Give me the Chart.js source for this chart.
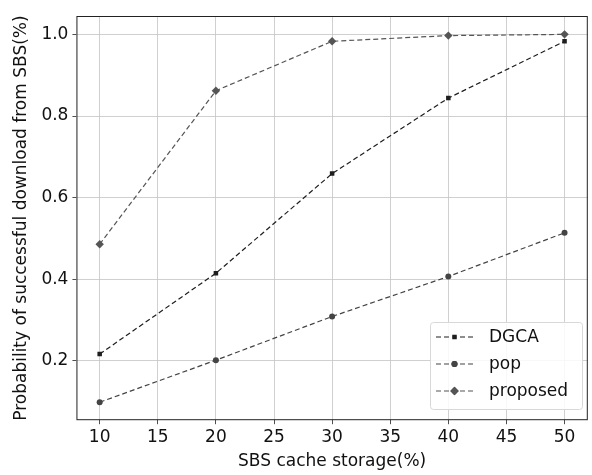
<!DOCTYPE html>
<html>
<head>
<meta charset="utf-8">
<script src="https://cdn.jsdelivr.net/npm/chart.js@4"></script>
<style>
  body { margin: 0; background: #fff; }
  #wrap { width: 592px; height: 475px; }
</style>
</head>
<body>
<div id="wrap"><canvas id="cacheChart" width="592" height="475"></canvas></div>
<script>
const storage = [10, 20, 30, 40, 50];
const dgca = [0.217, 0.415, 0.659, 0.844, 0.983];
const pop = [0.099, 0.202, 0.309, 0.407, 0.514];
const proposed = [0.486, 0.862, 0.983, 0.997, 1.0];
const xTicks = [10, 15, 20, 25, 30, 35, 40, 45, 50];
const yTicks = [0.2, 0.4, 0.6, 0.8, 1.0];

const FONT = 'DejaVu Sans';

function series(label, values, color, marker, radius) {
  return {
    label: label,
    data: storage.map((x, i) => ({ x: x, y: values[i] })),
    borderColor: color,
    backgroundColor: color,
    borderWidth: 1.2,
    borderDash: [5, 3],
    pointStyle: marker,
    pointRadius: radius,
    pointHoverRadius: radius,
    pointBorderWidth: 0,
    tension: 0
  };
}

// matplotlib-like frame + legend inside the axes
const framePlugin = {
  id: 'frame',
  afterDraw(chart) {
    const { ctx, chartArea: a } = chart;
    ctx.save();
    ctx.strokeStyle = '#222';
    ctx.lineWidth = 1;
    ctx.strokeRect(a.left + 0.5, a.top + 0.5, a.right - a.left - 1, a.bottom - a.top - 1);

    // legend box
    const bx = 430, by = 322, bw = 152, bh = 87;
    ctx.fillStyle = 'rgba(255,255,255,0.85)';
    ctx.strokeStyle = '#d8d8d8';
    ctx.lineWidth = 1;
    ctx.beginPath();
    ctx.roundRect(bx + 0.5, by + 0.5, bw, bh, 3);
    ctx.fill();
    ctx.stroke();

    ctx.font = '17px ' + FONT;
    ctx.textBaseline = 'middle';
    chart.data.datasets.forEach((ds, i) => {
      const y = 337 + i * 27;
      ctx.strokeStyle = ds.borderColor;
      ctx.lineWidth = 1.2;
      ctx.setLineDash([5, 3]);
      ctx.beginPath();
      ctx.moveTo(436, y);
      ctx.lineTo(473, y);
      ctx.stroke();
      ctx.setLineDash([]);
      Chart.helpers.drawPoint(ctx, {
        pointStyle: ds.pointStyle, radius: ds.pointRadius, borderWidth: 0
      }, 454.5, y);
      ctx.fillStyle = ds.borderColor;
      ctx.fill();
      ctx.fillStyle = '#111';
      ctx.fillText(ds.label, 489, y + 1);
    });
    ctx.restore();
  }
};

new Chart(document.getElementById('cacheChart'), {
  type: 'line',
  data: {
    datasets: [
      series('DGCA', dgca, '#1e1e1e', 'rect', 3.2),
      series('pop', pop, '#444444', 'circle', 3),
      series('proposed', proposed, '#555555', 'rectRot', 4.2)
    ]
  },
  options: {
    responsive: false,
    animation: false,
    layout: { padding: { left: 11, right: 1, top: 16, bottom: 0 } },
    plugins: {
      legend: { display: false },
      tooltip: { enabled: false }
    },
    scales: {
      x: {
        type: 'linear',
        min: 8,
        max: 52,
        afterBuildTicks: s => { s.ticks = xTicks.map(v => ({ value: v })); },
        grid: { color: '#c4c4c4', lineWidth: 0.8, tickColor: '#222', tickLength: 4 },
        border: { display: false },
        ticks: { color: '#111', font: { family: FONT, size: 17 }, padding: 3, maxRotation: 0 },
        title: { display: true, text: 'SBS cache storage(%)', color: '#111', font: { family: FONT, size: 17 }, padding: { top: 1, bottom: 3 } }
      },
      y: {
        min: 0.055,
        max: 1.045,
        afterBuildTicks: s => { s.ticks = yTicks.map(v => ({ value: v })); },
        grid: { color: '#c4c4c4', lineWidth: 0.8, tickColor: '#222', tickLength: 4 },
        border: { display: false },
        ticks: { color: '#111', font: { family: FONT, size: 17 }, padding: 4, callback: v => v.toFixed(1) },
        title: { display: true, text: 'Probability of successful download from SBS(%)', color: '#111', font: { family: FONT, size: 17 }, padding: { top: 0, bottom: 6 } }
      }
    }
  },
  plugins: [framePlugin]
});
</script>
</body>
</html>
